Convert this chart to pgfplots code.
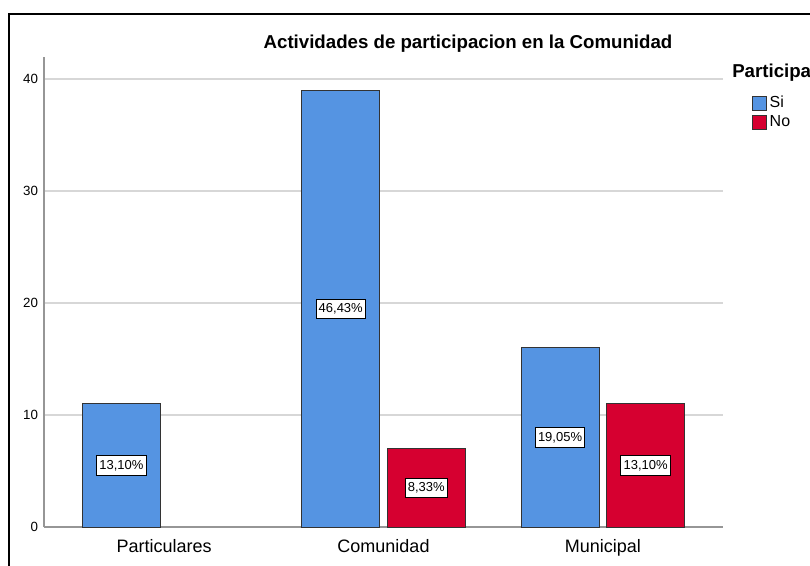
\documentclass[border=0pt]{standalone}
\usepackage{pgfplots}
\pgfplotsset{compat=1.18}
\usepackage{fontspec}
\setmainfont{Liberation Sans}
\definecolor{spssblue}{RGB}{85,148,226}
\definecolor{spssred}{RGB}{214,0,48}
\definecolor{gridgray}{RGB}{215,215,215}
\definecolor{axgray}{RGB}{150,150,150}
\begin{document}
\begin{tikzpicture}
\useasboundingbox (0,0) rectangle (607.5pt,-423.75pt);
% outer frame (top and left)
\draw[line width=1.5pt, black] (6pt,-10.5pt) -- (620pt,-10.5pt);
\draw[line width=1.5pt, black] (6.75pt,-10.5pt) -- (6.75pt,-440pt);
\begin{axis}[
  at={(33pt,-395.25pt)}, anchor=south west,
  scale only axis, width=509.25pt, height=352.8pt,
  xmin=-0.548, xmax=2.548, ymin=0, ymax=42,
  axis x line*=bottom, axis y line*=left,
  axis line style={axgray, line width=1pt, -},
  ymajorgrids, grid style={gridgray, line width=1.1pt},
  major tick length=0pt,
  ytick={0,10,20,30,40},
  xtick={0,1,2}, xticklabels={Particulares,Comunidad,Municipal},
  /pgf/number format/assume math mode=true,
  yticklabel style={font=\fontsize{10}{12}\selectfont, xshift=-1pt},
  xticklabel style={font=\fontsize{13.5}{16}\selectfont, yshift=-5.5pt},
  ybar, bar width=0.3557,
  nodes near coords={\pgfplotspointmeta\%},
  nodes near coords align=center,
  visualization depends on=rawy \as \rawy,
  every node near coord/.append style={
    yshift=-\rawy*4.2pt, draw=black, fill=white, line width=0.6pt,
    font=\fontsize{9.75}{11}\selectfont, inner xsep=2pt, inner ysep=0pt,
    minimum height=14.5pt, text=black},
  legend style={at={(1.0427,0.922)}, anchor=north west, draw=none, fill=none,
    font=\fontsize{12}{12}\selectfont, inner sep=0pt, row sep=0.5pt,
    /tikz/every even column/.append style={column sep=2pt}},
  legend cell align=left,
  legend image code/.code={\draw[#1, draw=black!80, line width=0.6pt] (0pt,-5.25pt) rectangle (10.5pt,5.25pt);},
]
\addplot[fill=spssblue, draw=black!80, line width=0.6pt, bar shift=-0.195, point meta=explicit symbolic]
  coordinates {(0,11) [13,10] (1,39) [46,43] (2,16) [19,05]};
\addlegendentry{Si}
\addplot[fill=spssred, draw=black!80, line width=0.6pt, bar shift=0.195, point meta=explicit symbolic]
  coordinates {(1,7) [8,33] (2,11) [13,10]};
\addlegendentry{No}
\end{axis}
\node[anchor=center, font=\bfseries\fontsize{14}{16}\selectfont] at (351pt,-33pt) {Actividades de participacion en la Comunidad};
\node[anchor=west, font=\bfseries\fontsize{14}{16}\selectfont, inner sep=0pt] at (549pt,-54.75pt) {Participa};
\end{tikzpicture}
\end{document}
